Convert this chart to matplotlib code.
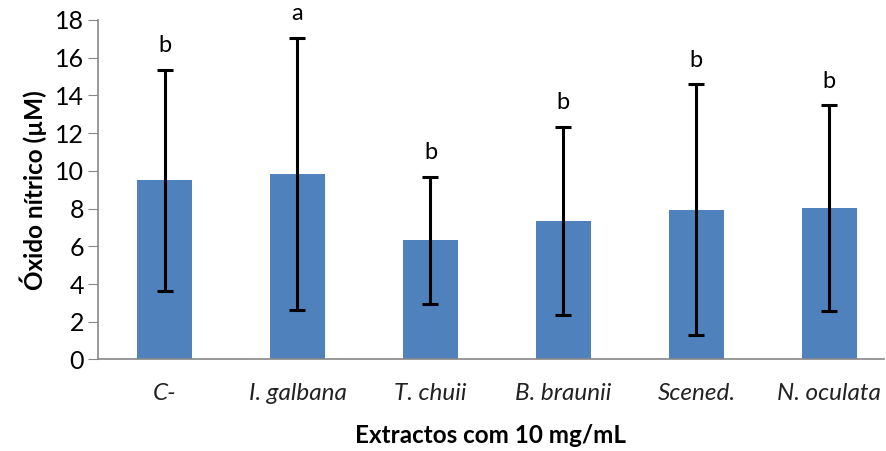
import numpy as np
import matplotlib
matplotlib.use("Agg")
import matplotlib.pyplot as plt

plt.rcParams['font.family'] = ['Lato', 'DejaVu Sans']

# data
categories = ['C-', 'I. galbana', 'T. chuii', 'B. braunii', 'Scened.', 'N. oculata']
means = [9.5, 9.83, 6.32, 7.35, 7.93, 8.02]
errors = [5.87, 7.23, 3.38, 4.97, 6.65, 5.45]
letters = ['b', 'a', 'b', 'b', 'b', 'b']

fig = plt.figure(figsize=(8.87, 4.51), dpi=100)
ax = fig.add_axes([0.1105, 0.2029, 0.886, 0.7528])

x = np.arange(len(categories))
ax.bar(x, means, width=0.41, color='#4F81BD', zorder=2)
ax.errorbar(x, means, yerr=errors, fmt='none', ecolor='black', elinewidth=2.2,
            capsize=6, capthick=2.2, zorder=3)

# significance letters above the error bars
for xi, m, e, lab in zip(x, means, errors, letters):
    ax.annotate(lab, (xi, m + e), xytext=(0, 10), textcoords='offset points',
                ha='center', va='bottom', fontsize=17)

ax.set_xlim(-0.5, 5.41)
ax.set_ylim(0, 18)
ax.set_yticks(range(0, 19, 2))
ax.set_xticks(x)
ax.set_xticklabels(categories, fontsize=17.5, style='italic', color='#222222')
ax.tick_params(axis='x', length=0, pad=17)
ax.tick_params(axis='y', length=7, color='#888888', labelsize=18, pad=3)

for s in ['top', 'right']:
    ax.spines[s].set_visible(False)
for s in ['left', 'bottom']:
    ax.spines[s].set_color('#888888')
    ax.spines[s].set_linewidth(1.2)

ax.set_ylabel('Óxido nítrico (µM)', fontsize=17.5, fontweight='bold', labelpad=6)
ax.set_xlabel('Extractos com 10 mg/mL', fontsize=17.5, fontweight='bold', labelpad=14)

fig.savefig('out.png', dpi=100)
